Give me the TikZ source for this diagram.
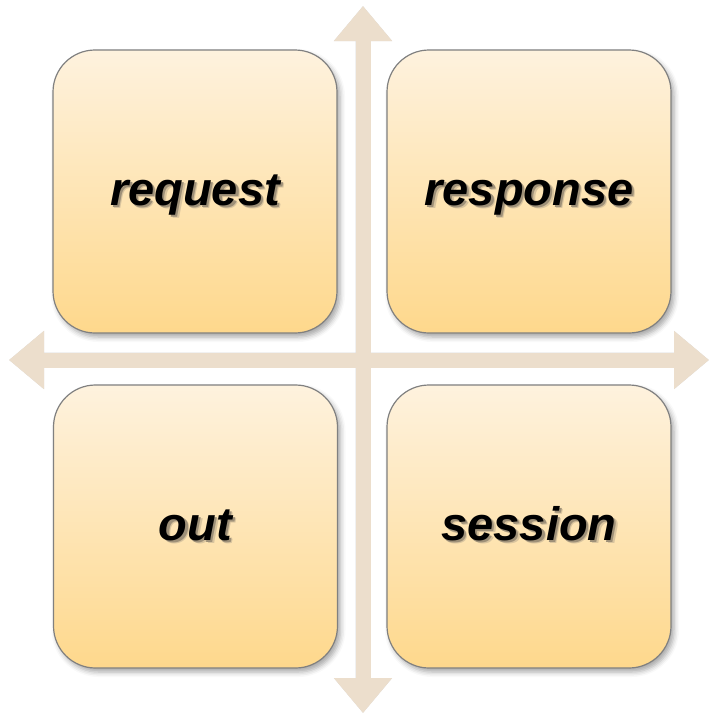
\documentclass[tikz,border=0pt]{standalone}
\usepackage{fontspec}
\setmainfont{Liberation Sans}
\usetikzlibrary{arrows.meta,shadows.blur}
\definecolor{boxtop}{HTML}{FEF2DE}
\definecolor{boxbot}{HTML}{FED88C}
\definecolor{boxedge}{HTML}{808080}
\definecolor{axiscol}{HTML}{ECDECC}
\definecolor{shadeA}{HTML}{D9C49E}
\definecolor{shadeB}{HTML}{9E9078}
% label text with a soft drop shadow behind it
\newcommand\shadowed[1]{%
  \makebox[0pt][l]{\kern3.5pt\raisebox{-3.5pt}{\textcolor{shadeA}{#1}}}%
  \makebox[0pt][l]{\kern2.2pt\raisebox{-2.2pt}{\textcolor{shadeB}{#1}}}%
  #1}
\begin{document}
\begin{tikzpicture}[x=1pt,y=-1pt,
  quad/.style={draw=boxedge, line width=1.2pt, rounded corners=42pt,
    top color=boxtop, bottom color=boxbot,
    minimum width=284pt, minimum height=283pt, inner sep=0pt,
    text height=33pt, text depth=6pt,
    font=\fontsize{47}{50}\selectfont\bfseries\itshape,
    blur shadow={shadow xshift=3pt, shadow yshift=-4pt,
      shadow blur radius=5pt, shadow opacity=35}},
  axis/.style={line width=15pt, draw=axiscol,
    {Triangle[length=35pt,width=56pt]}-{Triangle[length=35pt,width=56pt]}},
]
\useasboundingbox (0,0) rectangle (711,716);

% ends of the two axes
\coordinate (north) at (363,6);
\coordinate (south) at (363,713);
\coordinate (west) at (9,360);
\coordinate (east) at (709,360);

% axis shadows
\begin{scope}[transparency group, opacity=0.16, shift={(3pt,-4pt)}]
  \draw[axis, draw=black] (north) -- (south);
  \draw[axis, draw=black] (west) -- (east);
\end{scope}
% axes
\draw[axis] (north) -- (south);
\draw[axis] (west) -- (east);

% four quadrants
\node[quad] (req)  at (195,191.5) {\shadowed{request}};
\node[quad] (resp) at (529,191.5) {\shadowed{response}};
\node[quad] (out)  at (195.5,526.5) {\shadowed{out}};
\node[quad] (sess) at (529,526.5) {\shadowed{session}};
\end{tikzpicture}
\end{document}
